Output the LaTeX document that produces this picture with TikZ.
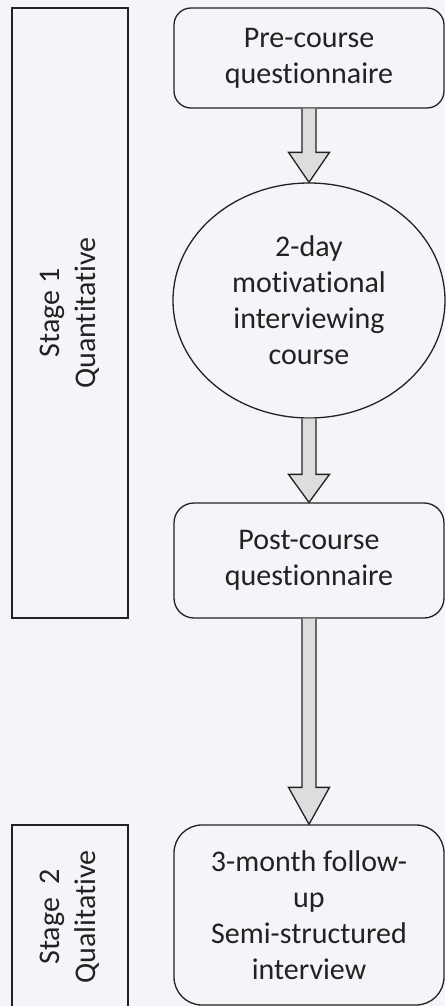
\documentclass[tikz,border=0pt]{standalone}
\usepackage{fontspec}
\setmainfont{Carlito}[Ligatures={NoCommon}]
\usetikzlibrary{shapes.geometric,calc}
\definecolor{ink}{HTML}{222222}
\definecolor{paper}{HTML}{F4F5F8}
\definecolor{shaft}{HTML}{DDDDDD}
% block arrow from the bottom of #1 to the top of #2, head length #3
\newcommand\flowarrow[3]{%
  \path[flow] let \p1=(#1.south), \p2=(#2.north) in
    (\x1-7pt,\y1) -- (\x1-7pt,\y2+#3) -- (\x1-20.5pt,\y2+#3) -- (\x1,\y2)
    -- (\x1+20.5pt,\y2+#3) -- (\x1+7pt,\y2+#3) -- (\x1+7pt,\y1);}
\begin{document}
\begin{tikzpicture}[x=1pt,y=-1pt,
  every node/.style={draw=ink, line width=1.3pt, text=ink, align=center,
    font=\fontsize{30}{36}\selectfont, inner sep=0pt},
  stagebox/.style={rectangle, rotate=90, minimum height=116pt},
  stepbox/.style={rectangle, rounded corners=#1, minimum width=270pt},
  coursebox/.style={ellipse, minimum width=272pt, minimum height=235pt},
  flow/.style={draw=ink, fill=shaft, line width=1.3pt, line join=miter}
]
\fill[paper] (0,0) rectangle (445,1006);
\useasboundingbox (0,0) rectangle (445,1006);

% stage labels
\node[stagebox, minimum width=610pt] (stage1) at (70,313) {Stage 1\\Quantitative};
\node[stagebox, minimum width=184pt] (stage2) at (70,917) {Stage~~2\\Qualitative};

% study steps
\node[stepbox=17pt, minimum height=100pt] (pre) at (309,58) {Pre-course\\questionnaire};
\node[coursebox] (course) at (309,300.5) {2-day\\motivational\\interviewing\\course};
\node[stepbox=20pt, minimum height=115pt] (post) at (309,560.5) {Post-course\\questionnaire};
\node[stepbox=28pt, minimum height=180pt] (follow) at (309,915) {3-month follow-\\up\\Semi-structured\\interview};

% connectors
\flowarrow{pre}{course}{30pt}
\flowarrow{course}{post}{28pt}
\flowarrow{post}{follow}{37pt}
\end{tikzpicture}
\end{document}
